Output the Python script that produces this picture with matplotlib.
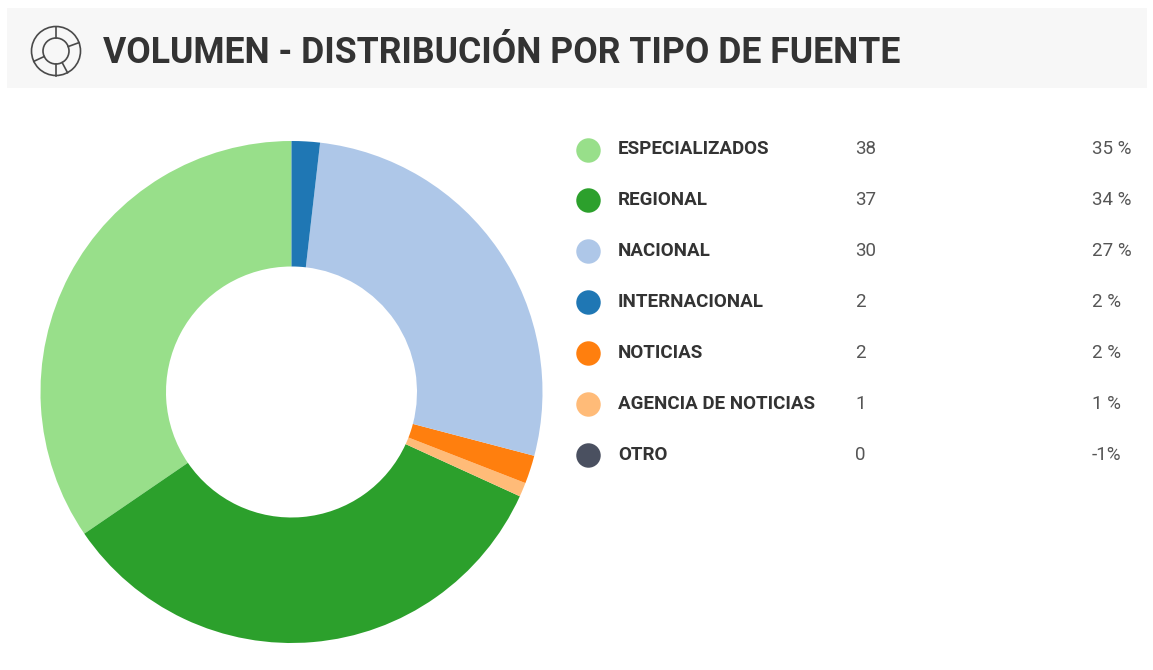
import matplotlib
matplotlib.use('Agg')
import matplotlib.pyplot as plt
from matplotlib.patches import Circle, Rectangle
import numpy as np

W, H = 1153, 670

title = 'VOLUMEN - DISTRIBUCIÓN POR TIPO DE FUENTE'

# legend order
categories = ['ESPECIALIZADOS', 'REGIONAL', 'NACIONAL', 'INTERNACIONAL',
              'NOTICIAS', 'AGENCIA DE NOTICIAS', 'OTRO']
counts = [38, 37, 30, 2, 2, 1, 0]
percents = ['35 %', '34 %', '27 %', '2 %', '2 %', '1 %', '-1%']
colors = ['#98df8a', '#2ca02c', '#aec7e8', '#1f77b4', '#ff7f0e', '#ffbb78', '#4a5060']

# order of the slices around the ring, counter clockwise from the top
pie_order = ['ESPECIALIZADOS', 'REGIONAL', 'AGENCIA DE NOTICIAS', 'NOTICIAS',
             'NACIONAL', 'INTERNACIONAL']

plt.rcParams['font.family'] = ['Roboto', 'DejaVu Sans']

fig = plt.figure(figsize=(W / 100, H / 100), dpi=100, facecolor='white')

# whole figure axes in pixels, y going down
bg = fig.add_axes([0, 0, 1, 1])
bg.set_xlim(0, W)
bg.set_ylim(H, 0)
bg.axis('off')

# header band
bg.add_patch(Rectangle((7, 8), 1140, 80, facecolor='#f7f7f7', edgecolor='none'))
bg.text(103, 53, title, fontsize=25.7, fontweight='bold', color='#333333',
        va='center', ha='left')

# header icon
icon_x, icon_y = 56, 51
icon_color = '#4a4a4a'
bg.add_patch(Circle((icon_x, icon_y), 24.5, fill=False, ec=icon_color, lw=1.2))
bg.add_patch(Circle((icon_x, icon_y), 13, fill=False, ec=icon_color, lw=1.2))
for a in [90, 20, 205, 270, 298]:
    r = np.radians(a)
    bg.plot([icon_x + 13 * np.cos(r), icon_x + 24.5 * np.cos(r)],
            [icon_y - 13 * np.sin(r), icon_y - 24.5 * np.sin(r)],
            color=icon_color, lw=1.2)

# legend rows
row_y = 149.5
row_step = 50.9
for i, cat in enumerate(categories):
    y = row_y + i * row_step
    bg.scatter([588.3], [y], s=310, color=colors[i], linewidths=0)
    bg.text(618, y, cat, fontsize=13.5, fontweight='bold', color='#333333',
            va='center', ha='left')
    bg.text(855, y, str(counts[i]), fontsize=13.5, color='#555555',
            va='center', ha='left')
    bg.text(1092, y, percents[i], fontsize=13.5, color='#555555',
            va='center', ha='left')

# donut
cx, cy, radius = 291.5, 392, 251
ax = fig.add_axes([(cx - radius) / W, 1 - (cy + radius) / H,
                   2 * radius / W, 2 * radius / H])
pie_values = [counts[categories.index(c)] for c in pie_order]
pie_colors = [colors[categories.index(c)] for c in pie_order]
ax.pie(pie_values, colors=pie_colors, startangle=90, counterclock=True, radius=1,
       wedgeprops={'width': 0.5, 'linewidth': 0})
ax.set_xlim(-1, 1)
ax.set_ylim(-1, 1)

fig.savefig('out.png', dpi=100)
